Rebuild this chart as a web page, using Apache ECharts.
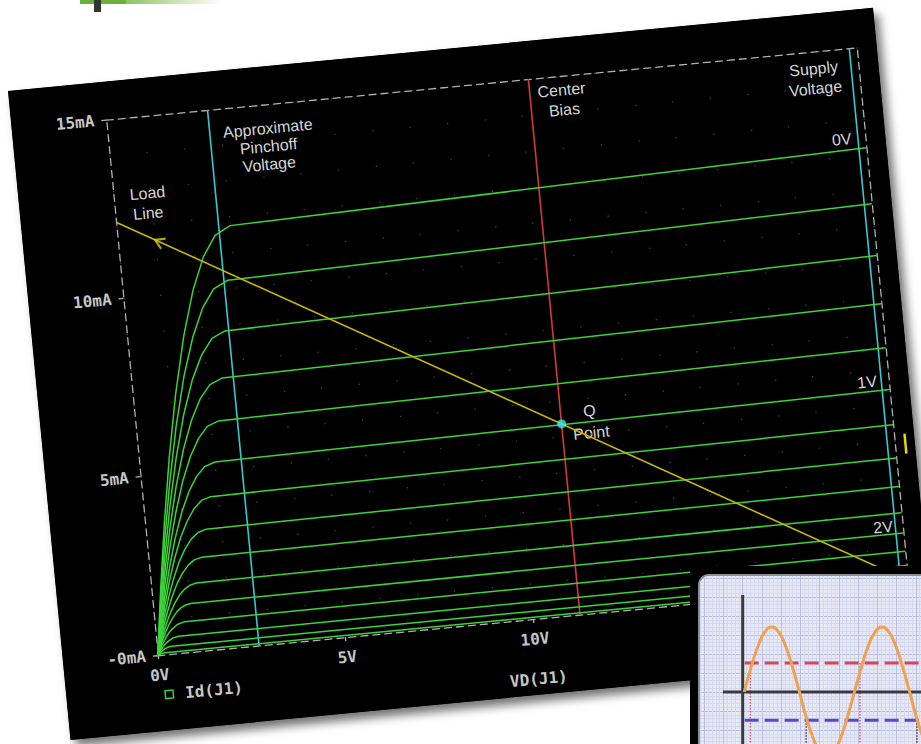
<!DOCTYPE html>
<html><head><meta charset="utf-8">
<script src="https://cdn.jsdelivr.net/npm/echarts@6/dist/echarts.min.js"></script>
<style>
html,body{margin:0;padding:0;width:921px;height:744px;overflow:hidden;background:#fff;}
#panel{position:absolute;left:8.3px;top:90.7px;width:869px;height:652px;background:#000;transform-origin:0 0;transform:rotate(-5.5deg);box-shadow:5px 7px 10px rgba(0,0,0,0.55);}
#chart{position:absolute;left:0;top:0;width:869px;height:652px;}
#insetFrame{position:absolute;left:690px;top:566px;width:240px;height:190px;background:#000;}
#insetCard{position:absolute;left:8px;top:8px;width:240px;height:190px;overflow:hidden;border-top:2px solid #8d8d96;border-left:2px solid #8d8d96;border-top-left-radius:11px;background:#e6e8f6;}
#inset{position:absolute;left:-15px;top:-17.3px;width:250px;height:190px;}
.bar1{position:absolute;left:80px;top:0;width:46px;height:4px;background:#6ab23e;}
.bar2{position:absolute;left:126px;top:0;width:95px;height:4px;background:linear-gradient(to right,#8cc466,rgba(255,255,255,0));}
.blk{position:absolute;left:94px;top:0;width:7px;height:12px;background:#333;}
</style></head><body>
<div class="bar1"></div><div class="bar2"></div><div class="blk"></div>
<div id="panel"><div id="chart"></div></div>
<div id="insetFrame"><div id="insetCard"><div id="inset"></div></div></div>
<script>
// ---------- main chart data (VD in volts, Id in mA) ----------
const xTickValues = [0, 5, 10, 15];
const yTickValues = [0, 5, 10, 15];
const vgsLabels = ['0V', '1V', '2V'];
const idVgs00 = [[0,0],[0.24,1.80],[0.51,3.65],[0.81,5.48],[1.14,7.22],[1.5,8.80],[1.86,10.04],[2.22,10.94],[2.58,11.50],[3.0,11.73],[20,12.19]];
const idVgs02 = [[0,0],[0.224,1.57],[0.476,3.18],[0.756,4.77],[1.064,6.29],[1.4,7.67],[1.736,8.74],[2.072,9.53],[2.408,10.02],[2.8,10.22],[20,10.62]];
const idVgs04 = [[0,0],[0.208,1.35],[0.442,2.74],[0.702,4.12],[0.988,5.43],[1.3,6.62],[1.612,7.55],[1.924,8.22],[2.236,8.65],[2.6,8.82],[20,9.17]];
const idVgs06 = [[0,0],[0.192,1.16],[0.408,2.34],[0.648,3.51],[0.912,4.63],[1.2,5.64],[1.488,6.43],[1.776,7.01],[2.064,7.37],[2.4,7.52],[20,7.82]];
const idVgs08 = [[0,0],[0.176,0.97],[0.374,1.97],[0.594,2.96],[0.836,3.90],[1.1,4.76],[1.364,5.42],[1.628,5.91],[1.892,6.22],[2.2,6.34],[20,6.59]];
const idVgs10 = [[0,0],[0.16,0.80],[0.34,1.62],[0.54,2.43],[0.76,3.21],[1.0,3.91],[1.24,4.46],[1.48,4.86],[1.72,5.11],[2.0,5.21],[20,5.42]];
const idVgs12 = [[0,0],[0.144,0.65],[0.306,1.33],[0.486,1.99],[0.684,2.62],[0.9,3.20],[1.116,3.64],[1.332,3.97],[1.548,4.18],[1.8,4.26],[20,4.43]];
const idVgs14 = [[0,0],[0.128,0.52],[0.272,1.05],[0.432,1.57],[0.608,2.07],[0.8,2.53],[0.992,2.88],[1.184,3.14],[1.376,3.30],[1.6,3.37],[20,3.50]];
const idVgs16 = [[0,0],[0.112,0.40],[0.238,0.81],[0.378,1.21],[0.532,1.60],[0.7,1.95],[0.868,2.22],[1.036,2.42],[1.204,2.55],[1.4,2.60],[20,2.70]];
const idVgs18 = [[0,0],[0.096,0.29],[0.204,0.59],[0.324,0.89],[0.456,1.17],[0.6,1.43],[0.744,1.63],[0.888,1.77],[1.032,1.86],[1.2,1.90],[20,1.97]];
const idVgs20 = [[0,0],[0.08,0.21],[0.17,0.42],[0.27,0.63],[0.38,0.83],[0.5,1.01],[0.62,1.16],[0.74,1.26],[0.86,1.32],[1.0,1.35],[20,1.40]];
const idVgs22 = [[0,0],[0.136,0.27],[0.304,0.53],[0.4,0.65],[0.592,0.80],[0.8,0.86],[20,0.89]];
const idVgs24 = [[0,0],[0.102,0.15],[0.228,0.29],[0.3,0.35],[0.444,0.44],[0.6,0.47],[20,0.49]];
const idVgs26 = [[0,0],[0.1,0.09],[0.2,0.16],[0.3,0.20],[0.4,0.21],[20,0.22]];
const idVgs28 = [[0,0],[0.1,0.04],[0.2,0.05],[20,0.05]];
const curveList = [idVgs00,idVgs02,idVgs04,idVgs06,idVgs08,idVgs10,idVgs12,idVgs14,idVgs16,idVgs18,idVgs20,idVgs22,idVgs24,idVgs26,idVgs28];
const pinchoffV = 2.7;
const centerBiasV = 11.25;
const supplyV = 19.8;
const loadLine = [[0, 12.13], [20, 0.06]];
const loadArrow = [[1.09, 11.47]];
const qPoint = [[11.25, 5.34]];

// ---------- inset data ----------
const insetSine = [[0.08,0],[0.44,1.31],[0.80,2.42],[1.15,3.16],[1.51,3.42],[1.87,3.16],[2.23,2.42],[2.59,1.31],[2.95,0],[3.30,-1.31],[3.66,-2.42],[4.02,-3.16],[4.38,-3.42],[4.74,-3.16],[5.09,-2.42],[5.45,-1.31],[5.81,0],[6.17,1.31],[6.53,2.42],[6.89,3.16],[7.24,3.42],[7.60,3.16],[7.96,2.42],[8.32,1.31],[8.68,0],[9.03,-1.31],[9.39,-2.42],[9.75,-3.16]];
const insetRedLine = [[0.1,1.53],[10,1.53]];
const insetBlueLine = [[0.1,-1.49],[10,-1.49]];
const insetVAxis = [[0,5.1],[0,-3]];
const insetHAxis = [[-1.03,0],[10,0]];
const insetPinkDrop1 = [[0.4,1.53],[0.4,-3]];
const insetPinkDrop2 = [[6.1,1.53],[6.1,-3]];
const insetDarkDrop1 = [[3.3,-1.49],[3.3,-3]];
const insetDarkDrop2 = [[9.06,-1.49],[9.06,-3]];

const mono = '"DejaVu Sans Mono", monospace';
const sans = '"Liberation Sans", Arial, sans-serif';
const green = '#3ad43a';
const gray = '#b0b0b0';
const labelGray = '#c6c6c6';
const dotStyle = {color:'#444444', width:1.3, type:[1.3, 34.57]};
const dashBorder = {color:gray, width:1.3, type:[7,5]};

function txt(text, x, y, align, font) {
  return {type:'text', x:x, y:y, silent:true, style:{text:text, fill:'#d6d6d6', font:font || ('16px ' + sans),
    align:align, verticalAlign:'middle', textAlign:align, textVerticalAlign:'middle'}};
}

const chart = echarts.init(document.getElementById('chart'), null, {renderer:'svg'});
const series = curveList.map(d => ({
  type:'line', name:'Id(J1)', data:d, showSymbol:false, smooth:false,
  lineStyle:{color:green, width:1.5, join:'round'}, itemStyle:{color:green}, z:3, silent:true
}));
series.push(
  {type:'line', name:'Pinchoff', data:[[pinchoffV,0],[pinchoffV,15]], showSymbol:false, lineStyle:{color:'#38c8d0', width:1.6}, z:2, silent:true},
  {type:'line', name:'Center Bias', data:[[centerBiasV,0],[centerBiasV,15]], showSymbol:false, lineStyle:{color:'#d23a3a', width:1.6}, z:2, silent:true},
  {type:'line', name:'Supply', data:[[supplyV,0],[supplyV,15]], showSymbol:false, lineStyle:{color:'#38c8d0', width:1.6}, z:2, silent:true},
  {type:'line', name:'Load Line', data:loadLine, showSymbol:false, lineStyle:{color:'#c8b800', width:1.6}, z:4, silent:true},
  {type:'scatter', name:'Arrow', data:loadArrow, symbol:'path://M0,10L5,0L10,10', symbolSize:[11,9], symbolRotate:60,
    itemStyle:{color:'rgba(0,0,0,0)', borderColor:'#e6d400', borderWidth:2}, z:5, silent:true},
  {type:'scatter', name:'Q Point', data:qPoint, symbol:'circle', symbolSize:9, itemStyle:{color:'#3ee8e8'}, z:6, silent:true}
);

chart.setOption({
  animation:false,
  backgroundColor:'#000',
  grid:{left:95, top:38, width:754, height:538},
  legend:{data:[{name:'Id(J1)', icon:'rect', itemStyle:{color:'rgba(0,0,0,0)', borderColor:green, borderWidth:1.5}}],
    left:98, top:608, padding:0, itemWidth:8, itemHeight:8, selectedMode:false,
    textStyle:{color:labelGray, fontFamily:mono, fontWeight:'bold', fontSize:16, padding:[0,0,0,7]}},
  xAxis:[
    {type:'value', min:0, max:20, interval:5, position:'bottom',
     axisLine:{show:true, onZero:false, lineStyle:dashBorder},
     axisTick:{show:true, length:4, lineStyle:{color:gray, width:1.3}},
     axisLabel:{margin:12, color:labelGray, fontFamily:mono, fontWeight:'bold', fontSize:16, formatter:v => v + 'V',
       customValues:xTickValues, showMaxLabel:false},
     splitLine:{show:true, lineStyle:dotStyle},
     minorTick:{show:false, splitNumber:5},
     minorSplitLine:{show:true, lineStyle:dotStyle},
     name:'VD(J1)', nameLocation:'middle', nameGap:52,
     nameTextStyle:{color:labelGray, fontFamily:mono, fontWeight:'bold', fontSize:16}},
    {type:'value', min:0, max:20, interval:5, position:'top',
     axisLine:{show:true, onZero:false, lineStyle:dashBorder},
     axisTick:{show:false}, axisLabel:{show:false}, splitLine:{show:false}}
  ],
  yAxis:[
    {type:'value', min:0, max:15, interval:5, position:'left',
     axisLine:{show:true, onZero:false, lineStyle:dashBorder},
     axisTick:{show:true, length:5, lineStyle:{color:gray, width:1.3}},
     axisLabel:{margin:12, color:labelGray, fontFamily:mono, fontWeight:'bold', fontSize:16,
       formatter:v => (v === 0 ? '-0mA' : v + 'mA'), customValues:yTickValues},
     splitLine:{show:false}},
    {type:'value', min:0, max:15, interval:5, position:'right',
     axisLine:{show:true, onZero:false, lineStyle:dashBorder},
     axisTick:{show:false}, axisLabel:{show:false}, splitLine:{show:false}}
  ],
  series:series,
  graphic:[
    txt('Load', 129, 115, 'center'), txt('Line', 128, 135, 'center'),
    txt('Approximate', 255, 62, 'center'), txt('Pinchoff', 254, 80, 'center'), txt('Voltage', 253, 98, 'center'),
    txt('Center', 551, 52, 'center'), txt('Bias', 552, 72, 'center'),
    txt('Supply', 804, 55, 'center'), txt('Voltage', 804, 75, 'center'),
    txt(vgsLabels[0], 835, 128, 'right'), txt(vgsLabels[1], 837, 372, 'right'), txt(vgsLabels[2], 839, 518, 'right'),
    txt('Q', 548, 374, 'center'), txt('Point', 548, 396, 'center'),
    {type:'line', silent:true, shape:{x1:859.5, y1:427, x2:859.5, y2:447}, style:{stroke:'#e8d800', lineWidth:2.5}}
  ]
});

// ---------- inset chart ----------
const inset = echarts.init(document.getElementById('inset'), null, {renderer:'svg'});
const insetAxis = (mn, mx) => ({type:'value', min:mn, max:mx, interval:1,
  axisLine:{show:false}, axisTick:{show:false}, axisLabel:{show:false},
  splitLine:{show:true, lineStyle:{color:'#b9bfdd', width:1}},
  minorTick:{show:false, splitNumber:5},
  minorSplitLine:{show:true, lineStyle:{color:'#d5d9ef', width:1}}});
const seg = (d, color, width, type, z) => ({type:'line', data:d, showSymbol:false, silent:true,
  lineStyle:{color:color, width:width, type:type}, z:z});
inset.setOption({
  animation:false,
  backgroundColor:'#e6e8f6',
  grid:{left:0, right:0, top:0, bottom:0},
  xAxis:insetAxis(-3, 10),
  yAxis:insetAxis(-3, 7),
  series:[
    seg(insetPinkDrop1, '#d0607c', 1.5, 'dotted', 2),
    seg(insetPinkDrop2, '#d0607c', 1.5, 'dotted', 2),
    seg(insetDarkDrop1, '#5a3a55', 1.5, 'dotted', 2),
    seg(insetDarkDrop2, '#5a3a55', 1.5, 'dotted', 2),
    seg(insetVAxis, '#3a3a3e', 3, 'solid', 3),
    seg(insetHAxis, '#3a3a3e', 3, 'solid', 3),
    seg(insetRedLine, '#cf4860', 3, [14,6], 4),
    seg(insetBlueLine, '#5a48c8', 3, [14,6], 4),
    {type:'line', data:insetSine, showSymbol:false, smooth:true, silent:true,
     lineStyle:{color:'#f0a050', width:3}, z:5}
  ]
});
</script>
</body></html>
